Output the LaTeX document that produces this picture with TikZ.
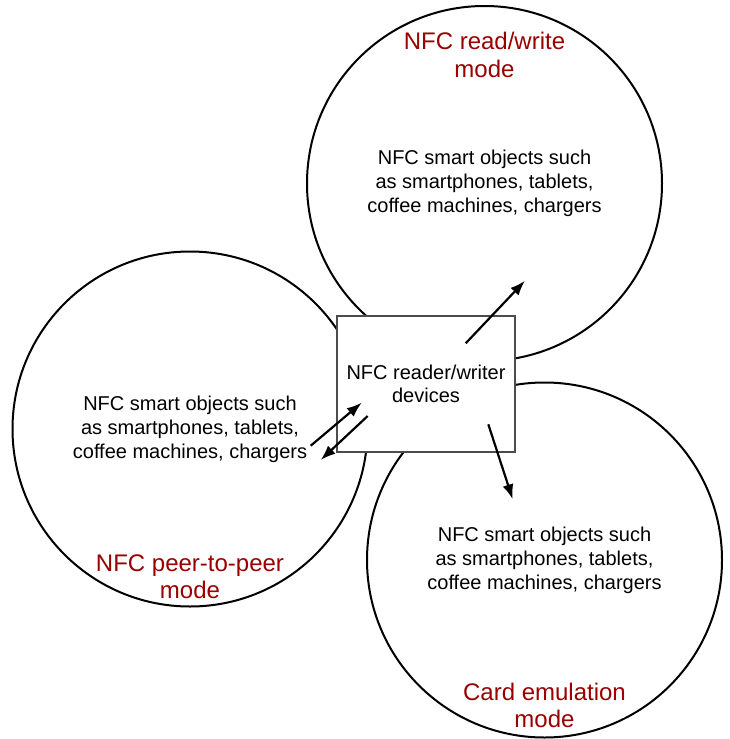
\documentclass[tikz,border=0pt]{standalone}
\usepackage{fontspec}
\setmainfont{Liberation Sans}
\usetikzlibrary{positioning,arrows.meta}
\definecolor{modered}{HTML}{990000}

\begin{document}
\begin{tikzpicture}[
x=1pt, y=-1pt,
mode/.style={
  draw,
  circle,
  line width=2pt,
  minimum size=355pt,
  align=center,
  font=\fontsize{20}{24}\selectfont
  },
title/.style={
  text=modered,
  align=center,
  font=\fontsize{24}{27.3}\selectfont
  },
device/.style={
  draw=black!70,
  fill=white,
  line width=1.6pt,
  minimum width=178pt,
  minimum height=136pt,
  align=center,
  font=\fontsize{20}{23}\selectfont
  },
link/.style={
  ->,
  line width=2.2pt
  },
>={Latex[length=15pt,width=11pt]}
]
\useasboundingbox (0,0) rectangle (730,739);

% the three modes
\node[mode] (rw) at (484.5,183.5) {NFC smart objects such\\as smartphones, tablets,\\coffee machines, chargers};
\node[mode] (pp) at (190,429) {NFC smart objects such\\as smartphones, tablets,\\coffee machines, chargers};
\node[mode] (ce) at (544.5,560) {NFC smart objects such\\as smartphones, tablets,\\coffee machines, chargers};

\node[title, below=24pt of rw.north] (rwt) {NFC read/write\\mode};
\node[title, above=5pt of pp.south] (ppt) {NFC peer-to-peer\\mode};
\node[title, above=7pt of ce.south] (cet) {Card emulation\\mode};

% reader in the middle
\node[device] (dev) at (426,384) {NFC reader/writer\\devices};

\coordinate (rwa) at (465.7,343.3);
\coordinate (rwb) at (525,280.7);
\coordinate (cea) at (488.3,424.3);
\coordinate (ceb) at (512.7,499.3);
\coordinate (ppa) at (310.7,445.7);
\coordinate (ppb) at (361.7,402.7);
\coordinate (ppc) at (367.7,416);
\coordinate (ppd) at (320.7,460);

\draw[link] (rwa) -- (rwb);
\draw[link] (cea) -- (ceb);
\draw[link] (ppa) -- (ppb);
\draw[link] (ppc) -- (ppd);
\end{tikzpicture}
\end{document}
